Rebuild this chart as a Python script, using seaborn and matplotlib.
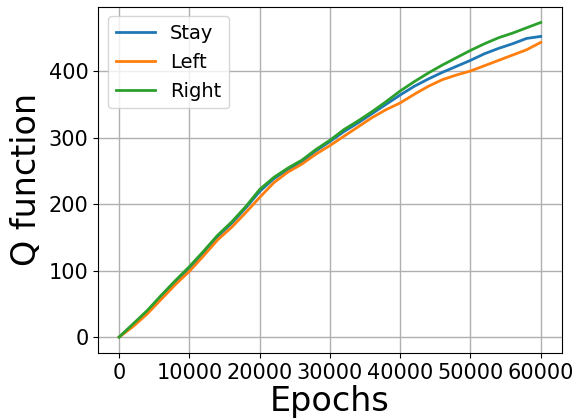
import numpy as np
import pandas as pd
import seaborn as sns
from matplotlib import pyplot as plt

epochs = list(range(0, 60001, 2000))
stay = [0, 19, 38, 61, 83, 104, 127, 151, 171, 194, 219, 238, 252, 264, 280, 294,
        309, 322, 336, 350, 364, 377, 388, 398, 407, 416, 426, 434, 441, 449, 452]
left = [0, 16, 35, 57, 79, 99, 122, 146, 165, 187, 210, 232, 248, 260, 275, 288,
        302, 316, 330, 342, 352, 365, 377, 387, 394, 400, 408, 416, 424, 432, 443]
right = [0, 20, 40, 63, 85, 106, 129, 153, 173, 196, 222, 240, 254, 266, 282, 296,
         312, 325, 339, 354, 370, 384, 397, 409, 420, 431, 441, 450, 457, 465, 473]
actions = ["Stay", "Left", "Right"]

df = pd.DataFrame({
    "Epochs": epochs * 3,
    "Q": stay + left + right,
    "Action": np.repeat(actions, len(epochs)),
})

fig, ax = plt.subplots(figsize=(5.84, 4.2), dpi=100)
sns.lineplot(data=df, x="Epochs", y="Q", hue="Action", palette="tab10",
             linewidth=2, ax=ax)
ax.grid(True, color="#b0b0b0", linewidth=1)
ax.set_xlabel("Epochs", fontsize=24, labelpad=2)
ax.set_ylabel("Q function", fontsize=24)
ax.tick_params(labelsize=15)
ax.set_xticks([0, 10000, 20000, 30000, 40000, 50000, 60000])
ax.set_yticks([0, 100, 200, 300, 400])
ax.legend(title=None, fontsize=14, loc="upper left")
plt.subplots_adjust(left=0.168, right=0.962, top=0.984, bottom=0.16)
plt.savefig("out.png")
